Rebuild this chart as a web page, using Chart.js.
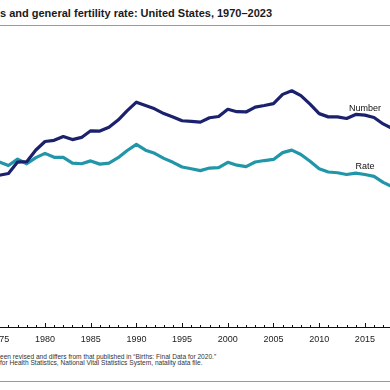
<!DOCTYPE html>
<html><head><meta charset="utf-8">
<script src="https://cdn.jsdelivr.net/npm/chart.js@4.4.1/dist/chart.umd.min.js"></script>
<style>
html,body{margin:0;padding:0;background:#fff;}
#wrap{position:relative;width:390px;height:390px;overflow:hidden;background:#fff;}
.line{position:absolute;left:0;white-space:nowrap;}
.pre{position:absolute;right:100%;top:0;white-space:nowrap;}
#title{top:7px;font:bold 11px "Liberation Sans Narrow","Arial Narrow",sans-serif;color:#1a1a1a;}
.rule{position:absolute;left:0;width:390px;height:1px;background:#9a9a9a;}
.note{font:6.6px "Liberation Sans",Arial,sans-serif;color:#333;line-height:7.6px;}
#c{position:absolute;left:-120px;top:30px;}
</style></head><body>
<div id="wrap">
 <div class="line" id="title"><span class="pre">Figure 1. Number of live birth</span>s and general fertility rate: United States, 1970–2023</div>
 <div class="rule" style="top:25px"></div>
 <canvas id="c" width="620" height="320"></canvas>
 <div class="line note" style="top:352.7px"><span class="pre">NOTE: The number of births for 2020 has b</span>een revised and differs from that published in “Births: Final Data for 2020.”</div>
 <div class="line note" style="top:358.8px"><span class="pre">SOURCE: National Center </span>for Health Statistics, National Vital Statistics System, natality data file.</div>
 <div class="rule" style="top:381px"></div>
</div>
<script>
const years = [1970,1971,1972,1973,1974,1975,1976,1977,1978,1979,
  1980,1981,1982,1983,1984,1985,1986,1987,1988,1989,
  1990,1991,1992,1993,1994,1995,1996,1997,1998,1999,
  2000,2001,2002,2003,2004,2005,2006,2007,2008,2009,
  2010,2011,2012,2013,2014,2015,2016,2017,2018,2019,
  2020,2021,2022,2023];
// Number of births, millions
const births = [3.731,3.556,3.258,3.137,3.160,3.144,3.168,3.327,3.333,3.494,
  3.612,3.629,3.681,3.639,3.669,3.761,3.757,3.809,3.910,4.041,
  4.158,4.111,4.065,4.000,3.953,3.900,3.891,3.881,3.942,3.959,
  4.059,4.026,4.022,4.090,4.112,4.138,4.266,4.316,4.248,4.131,
  3.999,3.954,3.953,3.932,3.988,3.978,3.946,3.856,3.792,3.748,
  3.614,3.664,3.668,3.596];
// General fertility rate per 1,000 women aged 15-44
const gfr = [87.9,81.6,73.1,68.8,67.8,66.0,65.0,66.8,65.5,67.2,
  68.4,67.3,67.3,65.7,65.5,66.3,65.4,65.7,67.2,69.2,
  70.9,69.3,68.4,67.0,65.9,64.6,64.1,63.6,64.3,64.4,
  65.9,65.1,64.7,66.0,66.4,66.7,68.6,69.3,68.1,66.2,
  64.1,63.2,63.0,62.5,62.9,62.5,62.0,60.3,59.1,58.3,
  56.0,56.3,56.0,54.5];
const tickYears = [1970,1975,1980,1985,1990,1995,2000,2005,2010,2015,2020];
const seriesNames = ['Number','Rate'];

const annotations = [
  {text:'Number', year:2015, value:4.07, axis:'yN'},
  {text:'Rate', year:2015, value:64.8, axis:'yR'}
];

const tickPlugin = {
  id:'innerTicks',
  afterDatasetsDraw(chart){
    const x = chart.scales.x, ctx = chart.ctx, y0 = chart.chartArea.bottom;
    ctx.save();
    ctx.strokeStyle = '#111'; ctx.lineWidth = 1;
    years.forEach((yr,i)=>{
      const px = Math.round(x.getPixelForValue(i)) + 0.5;
      const len = yr % 5 === 0 ? 4 : 2;
      ctx.beginPath(); ctx.moveTo(px, y0); ctx.lineTo(px, y0 - len); ctx.stroke();
    });
    ctx.fillStyle = '#111';
    ctx.font = '9px "Liberation Sans", Arial, sans-serif';
    ctx.textAlign = 'center'; ctx.textBaseline = 'middle';
    annotations.forEach(a=>{
      const px = x.getPixelForValue(years.indexOf(a.year));
      const py = chart.scales[a.axis].getPixelForValue(a.value);
      ctx.fillText(a.text, px, py);
    });
    ctx.restore();
  }
};

new Chart(document.getElementById('c'), {
  type:'line',
  data:{
    labels: years.map(String),
    datasets:[
      {label:seriesNames[0], data:births, yAxisID:'yN', borderColor:'#1c216e', borderWidth:3.2, pointRadius:0, tension:0, borderJoinStyle:'round', borderCapStyle:'round'},
      {label:seriesNames[1], data:gfr, yAxisID:'yR', borderColor:'#2196a8', borderWidth:3.2, pointRadius:0, tension:0, borderJoinStyle:'round', borderCapStyle:'round'}
    ]
  },
  options:{
    responsive:false, animation:false, devicePixelRatio:1,
    layout:{padding:{left:73.6, right:62, top:10, bottom:0}},
    plugins:{legend:{display:false}, title:{display:false}, tooltip:{enabled:false}},
    scales:{
      x:{
        grid:{display:false, drawTicks:false},
        border:{display:true, color:'#111', width:1},
        afterFit:(s)=>{ s.height = 23; },
        ticks:{autoSkip:false, maxRotation:0, padding:7, color:'#222',
          font:{family:'"Liberation Sans", Arial, sans-serif', size:9},
          callback:(v,i)=> tickYears.includes(years[i]) ? String(years[i]) : ''}
      },
      yN:{position:'left', display:false, min:1.04, max:5.02},
      yR:{position:'right', display:false, min:20, max:100}
    }
  },
  plugins:[tickPlugin]
});
</script>
</body></html>
